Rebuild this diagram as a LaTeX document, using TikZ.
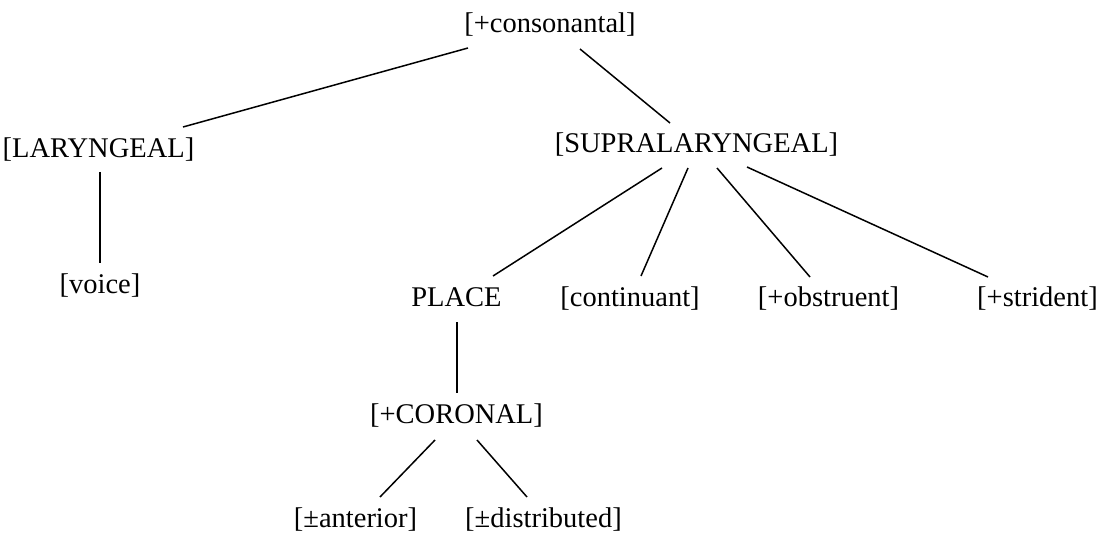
\documentclass[tikz,border=0pt]{standalone}
\usepackage{fontspec}
\setmainfont{Liberation Serif}
\usetikzlibrary{calc}
\begin{document}
\begin{tikzpicture}[x=1pt,y=-1pt,
  feat/.style={inner sep=0pt,text height=19.3pt,text depth=4.5pt,font=\fontsize{28.5}{34}\selectfont},
  branch/.style={line width=1.5pt}]
\useasboundingbox (0,0) rectangle (1105,537);
\node[feat] (cons) at (550,25) {[+consonantal]};
\node[feat] (lar) at (98.5,150) {[LARYNGEAL]};
\node[feat] (supra) at (696.5,145) {[SUPRALARYNGEAL]};
\node[feat] (voice) at (100,286) {[voice]};
\node[feat] (place) at (456.5,299) {PLACE};
\node[feat] (cont) at (630,299) {[continuant]};
\node[feat] (obst) at (828.5,299) {[+obstruent]};
\node[feat] (strid) at (1037.5,299) {[+strident]};
\node[feat] (cor) at (456.5,416) {[+CORONAL]};
\node[feat] (ant) at (355.5,520.5) {[\textpm anterior]};
\node[feat] (dist) at (543.5,520.5) {[\textpm distributed]};
\draw[branch] ($(cons)+(-82,23)$) -- ($(lar)+(84.5,-23)$);
\draw[branch] ($(cons)+(30,24)$) -- ($(supra)+(-26.5,-22)$);
\draw[branch] ($(lar)+(1.5,22)$) -- ($(voice)+(0,-23)$);
\draw[branch] ($(supra)+(-34.5,23)$) -- ($(place)+(36.5,-23)$);
\draw[branch] ($(supra)+(-8.5,23)$) -- ($(cont)+(11,-23)$);
\draw[branch] ($(supra)+(20.5,23)$) -- ($(obst)+(-18.5,-22)$);
\draw[branch] ($(supra)+(50.5,22)$) -- ($(strid)+(-49.5,-22)$);
\draw[branch] ($(place)+(0.5,23)$) -- ($(cor)+(0.5,-23)$);
\draw[branch] ($(cor)+(-21.5,24)$) -- ($(ant)+(24.5,-23.5)$);
\draw[branch] ($(cor)+(20.5,24)$) -- ($(dist)+(-16.5,-23.5)$);
\end{tikzpicture}
\end{document}
